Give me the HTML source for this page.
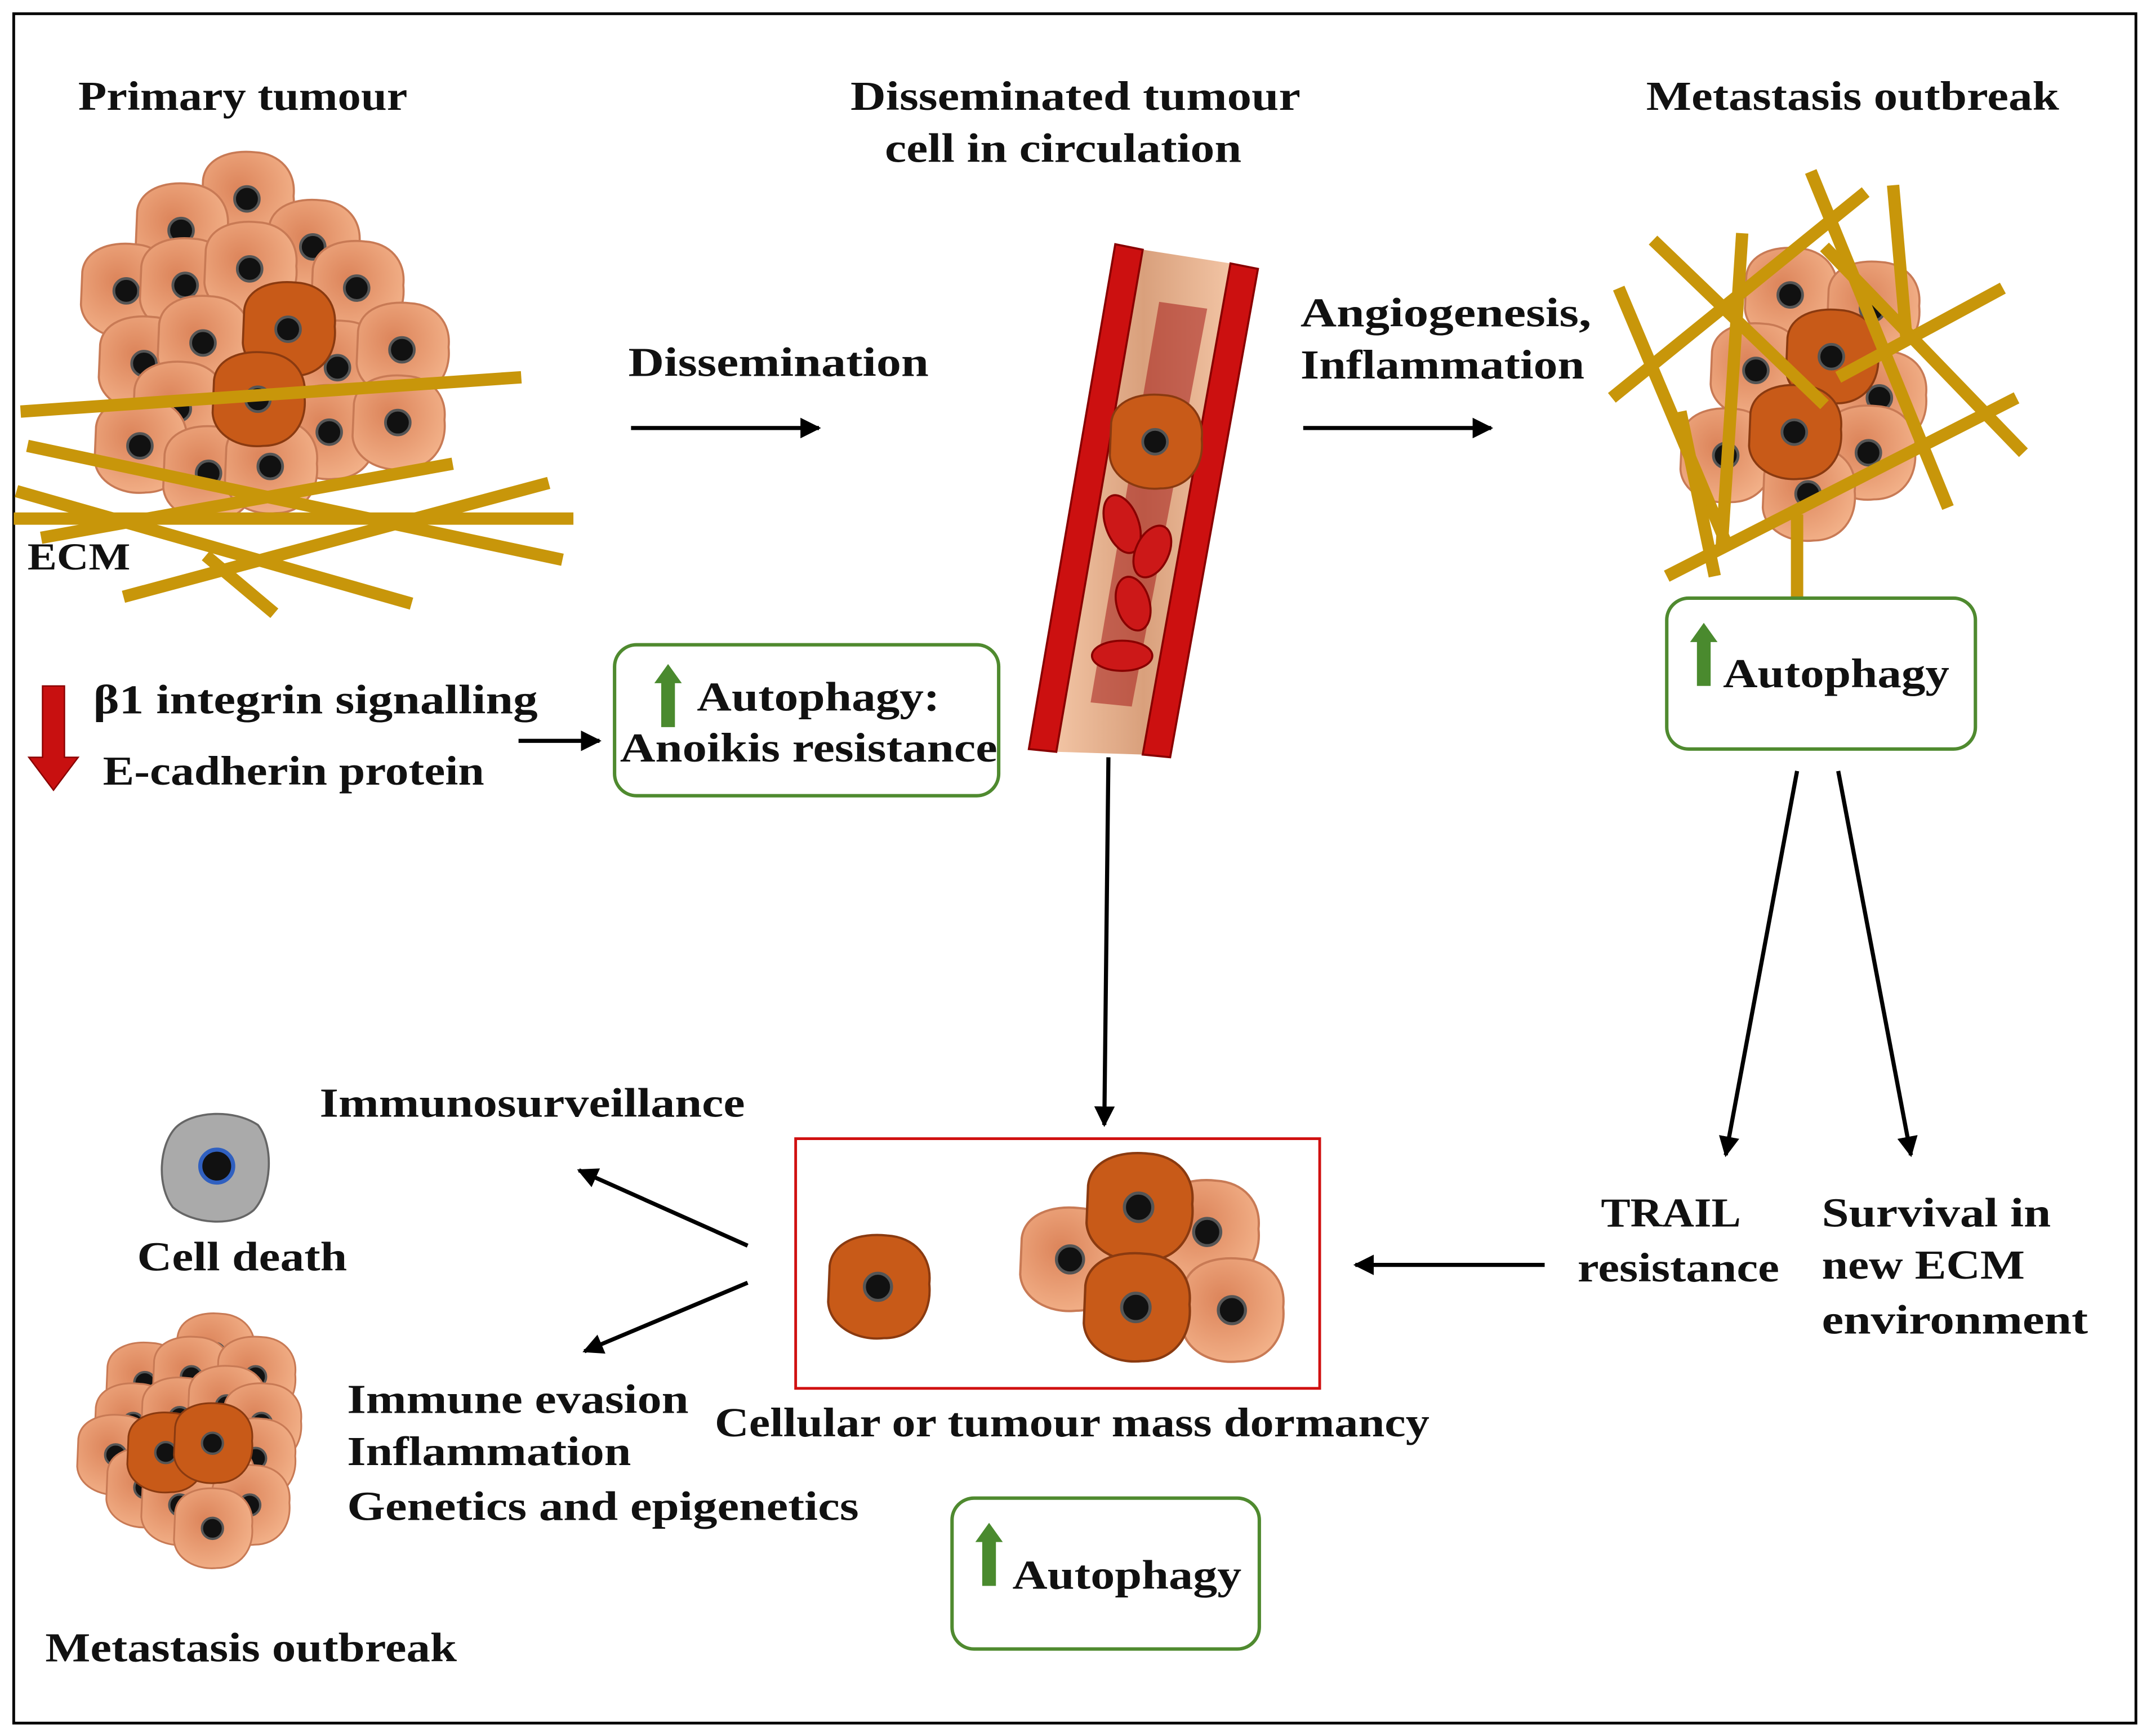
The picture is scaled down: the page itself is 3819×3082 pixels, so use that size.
<!DOCTYPE html>
<html><head><meta charset="utf-8"><style>
html,body{margin:0;padding:0;background:#fff;}
svg{display:block;}
text{font-family:"Liberation Serif",serif;font-weight:bold;fill:#111;}
</style></head><body>
<svg width="3819" height="3082" viewBox="0 0 1568 1265.4" preserveAspectRatio="none" xmlns="http://www.w3.org/2000/svg">
<defs>
<radialGradient id="lg" cx="0.4" cy="0.4" r="0.7"><stop offset="0" stop-color="#dc845a"/><stop offset="1" stop-color="#f4b48c"/></radialGradient>
<linearGradient id="vg" x1="0" x2="1" y1="0" y2="0"><stop offset="0" stop-color="#f2c4a4"/><stop offset="0.5" stop-color="#d9a07c"/><stop offset="1" stop-color="#f2c4a4"/></linearGradient>
<g id="lc"><path d="M-32,-14 C-30,-30 -12,-36 6,-34 C24,-33 36,-20 34,-2 C36,18 24,34 4,34 C-14,36 -32,26 -33,10 Z" fill="url(#lg)" stroke="#c87a55" stroke-width="1.5"/><circle r="9" fill="#111" stroke="#555" stroke-width="2"/></g>
<g id="dc"><path d="M-32,-14 C-30,-30 -12,-36 6,-34 C24,-33 36,-20 34,-2 C36,18 24,34 4,34 C-14,36 -32,26 -33,10 Z" fill="#c85a18" stroke="#8a3a10" stroke-width="1.5"/><circle r="9" fill="#111" stroke="#555" stroke-width="2"/></g>
<marker id="ah" viewBox="0 0 10 10" refX="9" refY="5" markerWidth="5" markerHeight="5" orient="auto"><path d="M0,0 L10,5 L0,10 Z" fill="#000"/></marker>
</defs>
<rect x="10" y="10" width="1547" height="1246" fill="#fff" stroke="#000" stroke-width="2"/>

<g>
<use href="#lc" x="180" y="145"/><use href="#lc" x="132" y="168"/><use href="#lc" x="228" y="180"/><use href="#lc" x="92" y="212"/><use href="#lc" x="135" y="208"/><use href="#lc" x="182" y="196"/><use href="#lc" x="260" y="210"/><use href="#lc" x="105" y="265"/><use href="#lc" x="148" y="250"/><use href="#lc" x="246" y="268"/><use href="#lc" x="293" y="255"/><use href="#lc" x="130" y="298"/><use href="#lc" x="240" y="315"/><use href="#lc" x="290" y="308"/><use href="#lc" x="102" y="325"/><use href="#lc" x="152" y="345"/><use href="#lc" x="197" y="340"/>
<use href="#dc" x="210" y="240"/><use href="#dc" x="188" y="291"/>
</g>
<g stroke="#c8960a" stroke-width="9">
<line x1="10" y1="378" x2="418" y2="378"/><line x1="15" y1="300" x2="380" y2="275"/><line x1="20" y1="325" x2="410" y2="408"/><line x1="90" y1="435" x2="400" y2="352"/><line x1="12" y1="358" x2="300" y2="440"/><line x1="30" y1="392" x2="330" y2="338"/><line x1="150" y1="405" x2="200" y2="447"/>
</g>
<text x="20" y="415" font-size="28" textLength="75" lengthAdjust="spacingAndGlyphs">ECM</text>

<polygon points="833,182 897,192 833,550 770,548" fill="url(#vg)"/>
<polygon points="845,220 880,225 825,515 795,512" fill="#a01010" opacity="0.5"/>
<polygon points="813,178 833,182 770,548 750,546" fill="#cc1010" stroke="#800" stroke-width="1.5"/>
<polygon points="897,192 917,196 853,552 833,550" fill="#cc1010" stroke="#800" stroke-width="1.5"/>
<g fill="#cc1818" stroke="#800" stroke-width="1.5">
<ellipse cx="818" cy="382" rx="12" ry="22" transform="rotate(-20 818 382)"/>
<ellipse cx="840" cy="402" rx="12" ry="20" transform="rotate(25 840 402)"/>
<ellipse cx="826" cy="440" rx="12" ry="20" transform="rotate(-15 826 440)"/>
<ellipse cx="818" cy="478" rx="22" ry="11"/>
</g>
<use href="#dc" x="842" y="322"/>

<g>
<use href="#lc" x="1305" y="215"/><use href="#lc" x="1365" y="225"/><use href="#lc" x="1280" y="270"/><use href="#lc" x="1370" y="290"/><use href="#lc" x="1258" y="332"/><use href="#lc" x="1362" y="330"/><use href="#lc" x="1318" y="360"/>
<use href="#dc" x="1335" y="260"/><use href="#dc" x="1308" y="315"/>
</g>
<g stroke="#c8960a" stroke-width="9">
<line x1="1175" y1="290" x2="1360" y2="140"/><line x1="1205" y1="175" x2="1330" y2="295"/><line x1="1270" y1="170" x2="1255" y2="400"/><line x1="1320" y1="125" x2="1420" y2="370"/><line x1="1180" y1="210" x2="1260" y2="400"/><line x1="1215" y1="420" x2="1470" y2="290"/><line x1="1330" y1="180" x2="1475" y2="330"/><line x1="1340" y1="275" x2="1460" y2="210"/><line x1="1380" y1="135" x2="1390" y2="250"/><line x1="1310" y1="375" x2="1310" y2="436"/><line x1="1225" y1="300" x2="1250" y2="420"/>
</g>

<g stroke="#000" stroke-width="3" marker-end="url(#ah)" fill="none">
<line x1="460" y1="312" x2="597" y2="312"/>
<line x1="950" y1="312" x2="1087" y2="312"/>
<line x1="378" y1="540" x2="437" y2="540"/>
<line x1="808" y1="552" x2="805" y2="820"/>
<line x1="1310" y1="562" x2="1258" y2="842"/>
<line x1="1340" y1="562" x2="1393" y2="842"/>
<line x1="1126" y1="922" x2="988" y2="922"/>
<line x1="545" y1="908" x2="422" y2="853"/>
<line x1="545" y1="935" x2="426" y2="985"/>
</g>

<rect x="448" y="470" width="280" height="110" rx="16" fill="none" stroke="#4f8a2f" stroke-width="2.5"/>
<rect x="1215" y="436" width="225" height="110" rx="16" fill="none" stroke="#4f8a2f" stroke-width="2.5"/>
<rect x="694" y="1092" width="224" height="110" rx="16" fill="none" stroke="#4f8a2f" stroke-width="2.5"/>
<rect x="580" y="830" width="382" height="182" fill="none" stroke="#d01010" stroke-width="2"/>

<g fill="#4a8a2e">
<path d="M487,484 L497,498 L492,498 L492,530 L482,530 L482,498 L477,498 Z"/>
<path d="M1242,454 L1252,468 L1247,468 L1247,500 L1237,500 L1237,468 L1232,468 Z"/>
<path d="M721,1110 L731,1124 L726,1124 L726,1156 L716,1156 L716,1124 L711,1124 Z"/>
</g>
<path d="M31,500 L47,500 L47,552 L57,552 L39,576 L21,552 L31,552 Z" fill="#c81010" stroke="#800" stroke-width="1"/>

<use href="#dc" x="640" y="938" transform="translate(640 938) scale(1.1) translate(-640 -938)"/>
<use href="#lc" x="780" y="918" transform="translate(780 918) scale(1.1) translate(-780 -918)"/>
<use href="#lc" x="880" y="898" transform="translate(880 898) scale(1.1) translate(-880 -898)"/>
<use href="#lc" x="898" y="955" transform="translate(898 955) scale(1.1) translate(-898 -955)"/>
<use href="#dc" x="830" y="880" transform="translate(830 880) scale(1.15) translate(-830 -880)"/>
<use href="#dc" x="828" y="953" transform="translate(828 953) scale(1.15) translate(-828 -953)"/>

<path d="M128,822 C140,810 170,808 188,820 C200,835 198,868 185,882 C170,895 140,892 126,880 C114,864 116,835 128,822 Z" fill="#aaa" stroke="#666" stroke-width="1.5"/>
<circle cx="158" cy="850" r="12" fill="#111" stroke="#3060c0" stroke-width="3"/>

<g transform="translate(137 1052) scale(0.85) translate(-137 -1052)">
<use href="#lc" x="160" y="975"/><use href="#lc" x="100" y="1000"/><use href="#lc" x="140" y="995"/><use href="#lc" x="195" y="995"/><use href="#lc" x="90" y="1035"/><use href="#lc" x="130" y="1030"/><use href="#lc" x="170" y="1020"/><use href="#lc" x="200" y="1035"/><use href="#lc" x="75" y="1062"/><use href="#lc" x="195" y="1065"/><use href="#lc" x="100" y="1090"/><use href="#lc" x="160" y="1085"/><use href="#lc" x="130" y="1105"/><use href="#lc" x="190" y="1105"/><use href="#lc" x="158" y="1125"/>
<use href="#dc" x="118" y="1060"/><use href="#dc" x="158" y="1052"/>
</g>

<g font-size="30" lengthAdjust="spacingAndGlyphs">
<text x="57" y="80" textLength="240" lengthAdjust="spacingAndGlyphs">Primary tumour</text>
<text x="620" y="80" textLength="328" lengthAdjust="spacingAndGlyphs">Disseminated tumour</text>
<text x="645" y="118" textLength="260" lengthAdjust="spacingAndGlyphs">cell in circulation</text>
<text x="1200" y="80" textLength="301" lengthAdjust="spacingAndGlyphs">Metastasis outbreak</text>
<text x="458" y="274" textLength="219" lengthAdjust="spacingAndGlyphs">Dissemination</text>
<text x="948" y="238" textLength="212" lengthAdjust="spacingAndGlyphs">Angiogenesis,</text>
<text x="948" y="276" textLength="207" lengthAdjust="spacingAndGlyphs">Inflammation</text>
<text x="68" y="520" textLength="324" lengthAdjust="spacingAndGlyphs">β1 integrin signalling</text>
<text x="75" y="572" textLength="278" lengthAdjust="spacingAndGlyphs">E-cadherin protein</text>
<text x="508" y="518" textLength="177" lengthAdjust="spacingAndGlyphs">Autophagy:</text>
<text x="452" y="555" textLength="275" lengthAdjust="spacingAndGlyphs">Anoikis resistance</text>
<text x="1256" y="501" textLength="165" lengthAdjust="spacingAndGlyphs">Autophagy</text>
<text x="738" y="1158" textLength="167" lengthAdjust="spacingAndGlyphs">Autophagy</text>
<text x="233" y="814" textLength="310" lengthAdjust="spacingAndGlyphs">Immunosurveillance</text>
<text x="100" y="926" textLength="153" lengthAdjust="spacingAndGlyphs">Cell death</text>
<text x="1167" y="894" textLength="102" lengthAdjust="spacingAndGlyphs">TRAIL</text>
<text x="1150" y="934" textLength="147" lengthAdjust="spacingAndGlyphs">resistance</text>
<text x="1328" y="894" textLength="167" lengthAdjust="spacingAndGlyphs">Survival in</text>
<text x="1328" y="932" textLength="148" lengthAdjust="spacingAndGlyphs">new ECM</text>
<text x="1328" y="972" textLength="194" lengthAdjust="spacingAndGlyphs">environment</text>
<text x="253" y="1030" textLength="249" lengthAdjust="spacingAndGlyphs">Immune evasion</text>
<text x="253" y="1068" textLength="207" lengthAdjust="spacingAndGlyphs">Inflammation</text>
<text x="253" y="1108" textLength="373" lengthAdjust="spacingAndGlyphs">Genetics and epigenetics</text>
<text x="521" y="1047" textLength="521" lengthAdjust="spacingAndGlyphs">Cellular or tumour mass dormancy</text>
<text x="33" y="1211" textLength="300" lengthAdjust="spacingAndGlyphs">Metastasis outbreak</text>
</g>
</svg>
</body></html>
